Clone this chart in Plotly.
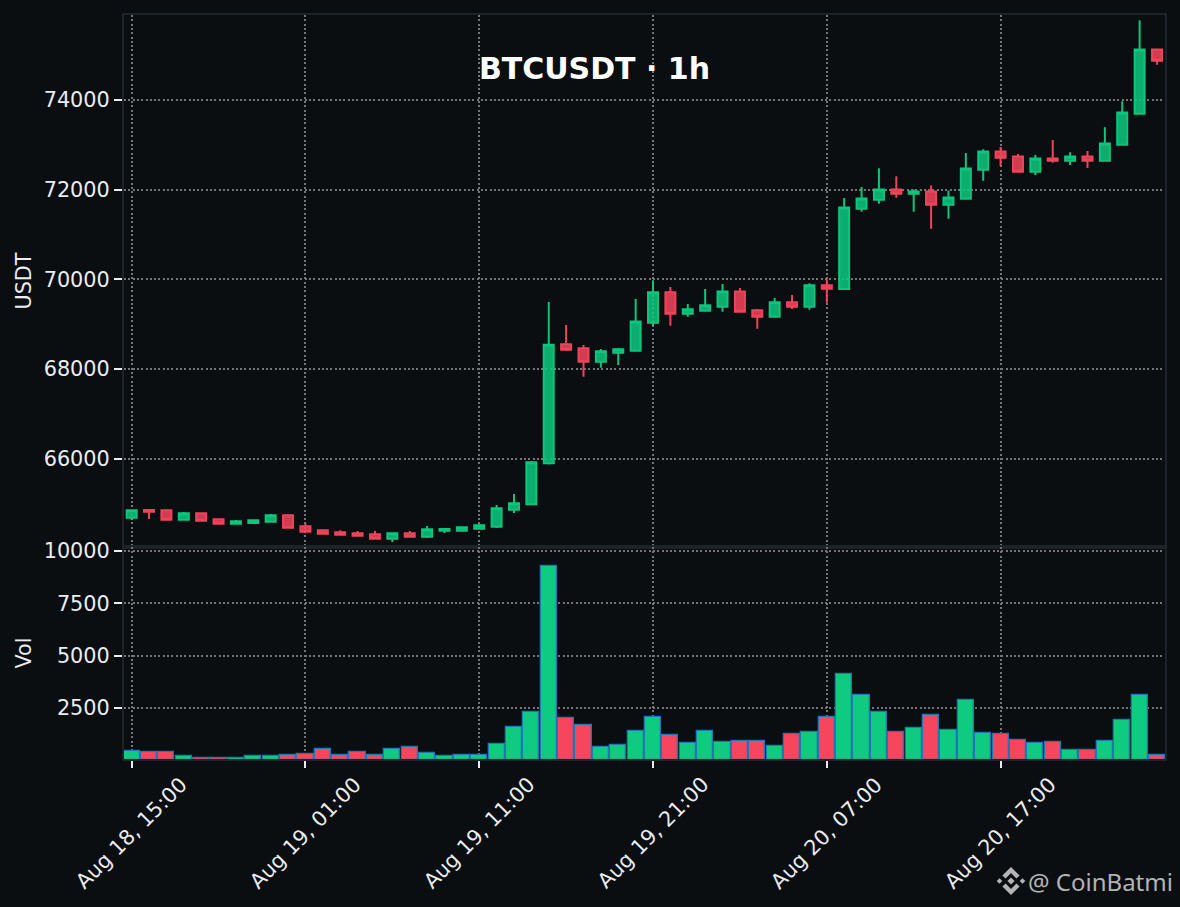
import pandas as pd
import plotly.graph_objects as go
from plotly.subplots import make_subplots

times = pd.date_range("2024-08-18 15:00", periods=60, freq="h").strftime("%Y-%m-%d %H:%M").tolist()
opens = [64685,64857,64850,64640,64782,64649,64552,64567,64596,64738,64493,64404,64359,64337,64315,64217,64337,64261,64395,64395,
         64440,64484,64863,64983,65897,68550,68461,68162,68362,68407,69031,69709,69232,69299,69388,69731,69308,69165,69486,69388,
         69865,69782,71572,71773,72005,71907,71960,71662,71795,72442,72852,72740,72397,72696,72642,72740,72642,72999,73690,75125]
highs = [64867,64872,64850,64812,64782,64649,64632,64627,64767,64738,64560,64404,64404,64388,64388,64337,64388,64500,64455,64471,
         64544,64968,65213,65949,69493,68980,68534,68445,68467,69559,69982,69827,69448,69782,69894,69805,69336,69582,69649,69910,
         70002,71811,72056,72479,72301,72005,72094,71982,72814,72903,72948,72792,72770,73104,72836,72859,73393,73972,75778,75125]
lows = [64632,64657,64640,64640,64618,64552,64552,64544,64596,64462,64373,64328,64283,64283,64217,64143,64261,64232,64344,64373,
        64440,64455,64789,64983,65872,68400,67828,68028,68088,68385,68964,68964,69165,69299,69277,69254,68898,69165,69337,69322,
        69477,69782,71505,71683,71818,71505,71127,71349,71795,72197,72524,72397,72324,72598,72547,72480,72642,72999,73667,74782]
closes = [64850,64817,64640,64782,64618,64552,64604,64627,64738,64462,64373,64328,64306,64283,64217,64337,64261,64426,64432,64471,
          64515,64894,65006,65920,68541,68429,68162,68394,68438,69062,69709,69232,69330,69419,69731,69277,69165,69486,69388,69865,
          69789,71604,71804,72005,71907,71960,71662,71826,72473,72852,72709,72397,72696,72642,72740,72642,73031,73721,75125,74872]
volumes = [445,366,366,175,80,80,80,175,175,223,270,509,223,366,223,509,604,318,175,223,
           223,747,1558,2321,9258,1988,1654,604,700,1367,2083,1177,795,1367,843,890,890,652,1224,1320,
           2083,4134,3132,2321,1320,1510,2131,1415,2894,1272,1224,938,795,843,461,461,890,1892,3132,223]
price_ticks = [66000,68000,70000,72000,74000]
volume_ticks = [2500,5000,7500,10000]
date_ticks = ["2024-08-18 15:00","2024-08-19 01:00","2024-08-19 11:00","2024-08-19 21:00","2024-08-20 07:00","2024-08-20 17:00"]
date_labels = ["Aug 18, 15:00","Aug 19, 01:00","Aug 19, 11:00","Aug 19, 21:00","Aug 20, 07:00","Aug 20, 17:00"]

BG = "#0b0e11"; GREEN = "#0ecb81"; RED = "#f6465d"; SPINE = "#1e2329"; TEXT = "#eaecef"; GRID = "#757575"
W, H, L, R, T, B = 1180, 907, 124, 15, 15, 148
SPLIT = 547
PW, PH = W - L - R, H - T - B

fig = make_subplots(rows=2, cols=1, shared_xaxes=True, vertical_spacing=0)
fig.add_trace(go.Candlestick(x=times, open=opens, high=highs, low=lows, close=closes,
    increasing=dict(line=dict(color=GREEN, width=2), fillcolor="rgba(14,203,129,0.88)"),
    decreasing=dict(line=dict(color=RED, width=2), fillcolor="rgba(246,70,93,0.88)"),
    whiskerwidth=0, opacity=0.97, showlegend=False), row=1, col=1)
fig.add_trace(go.Bar(x=times, y=volumes, width=3348000,
    marker=dict(color=[GREEN if c >= o else RED for o, c in zip(opens, closes)],
                line=dict(color="#1f77b4", width=1.3)), showlegend=False), row=2, col=1)

def px_path(pts):
    return "M " + " L ".join(f"{(x-L)/PW:.5f} {(H-B-y)/PH:.5f}" for x, y in pts) + " Z"

cx, cy = 1011, 881
glyphs = [
    [(0,-3.6),(3.6,0),(0,3.6),(-3.6,0)],
    [(-11.5,-2.8),(-8.7,0),(-11.5,2.8),(-14.3,0)],
    [(11.5,-2.8),(14.3,0),(11.5,2.8),(8.7,0)],
    [(0,-14),(8.6,-5.4),(5.4,-2.6),(0,-8),(-5.4,-2.6),(-8.6,-5.4)],
    [(0,14),(8.6,5.4),(5.4,2.6),(0,8),(-5.4,2.6),(-8.6,5.4)],
]
shapes = [dict(type="path", xref="paper", yref="paper", layer="above", fillcolor="#b4b4b4", line=dict(width=0),
               path=px_path([(cx+a, cy+b) for a, b in g])) for g in glyphs]

annotations = [dict(x=d, y=(H-B-833)/PH, xref="x2", yref="paper", text=t, showarrow=False, textangle=-45,
                    xanchor="center", yanchor="middle", font=dict(size=20.8, color=TEXT, family="DejaVu Sans"))
               for d, t in zip(date_ticks, date_labels)]
annotations.append(dict(x=(1175-L)/PW, y=(H-B-881)/PH, xref="paper", yref="paper", text="@ CoinBatmi", showarrow=False,
                        xanchor="right", yanchor="middle", font=dict(size=24, color="#b4b4b4", family="Noto Sans")))

grid = dict(showgrid=True, gridcolor=GRID, griddash="2px,2.3px", gridwidth=2, zeroline=False,
            showline=True, linecolor=SPINE, linewidth=2, mirror=True)
fig.update_layout(
    width=W, height=H, margin=dict(l=L, r=R, t=T, b=B, autoexpand=False),
    paper_bgcolor=BG, plot_bgcolor=BG, boxgap=0.425, boxgroupgap=0, bargap=0, showlegend=False,
    font=dict(family="DejaVu Sans", size=20.8, color=TEXT),
    title=dict(text="<b>BTCUSDT · 1h</b>", x=594.5/W, y=1-68/H, xanchor="center", yanchor="middle",
               font=dict(size=30, color="white", family="DejaVu Sans")),
    shapes=shapes, annotations=annotations,
)
xrange = ["2024-08-18 14:33:36", "2024-08-21 02:27:36"]
fig.update_xaxes(**grid, type="date", range=xrange, tickvals=date_ticks, ticktext=date_labels, rangeslider_visible=False)
fig.update_xaxes(showticklabels=False, ticks="", row=1, col=1)
fig.update_xaxes(showticklabels=False, ticks="outside", ticklen=7, tickwidth=2, tickcolor=TEXT, row=2, col=1)
fig.update_yaxes(**grid, ticks="outside", ticklen=8, tickwidth=2, tickcolor=TEXT, tickfont=dict(size=20.8, color=TEXT))
fig.update_yaxes(domain=[(H-B-SPLIT)/PH, 1], range=[64031, 75894], tickvals=price_ticks, tickformat="d",
                 title=dict(text="USDT", standoff=6, font=dict(size=20.8, color=TEXT)), row=1, col=1)
fig.update_yaxes(domain=[0, (H-B-SPLIT)/PH], range=[50, 10190], tickvals=volume_ticks, tickformat="d",
                 title=dict(text="Vol", standoff=6, font=dict(size=20.8, color=TEXT)), row=2, col=1)

fig.write_html("out.html", config=dict(displayModeBar=False),
               post_script="document.body.style.margin='0';document.body.style.background='#0b0e11';")
